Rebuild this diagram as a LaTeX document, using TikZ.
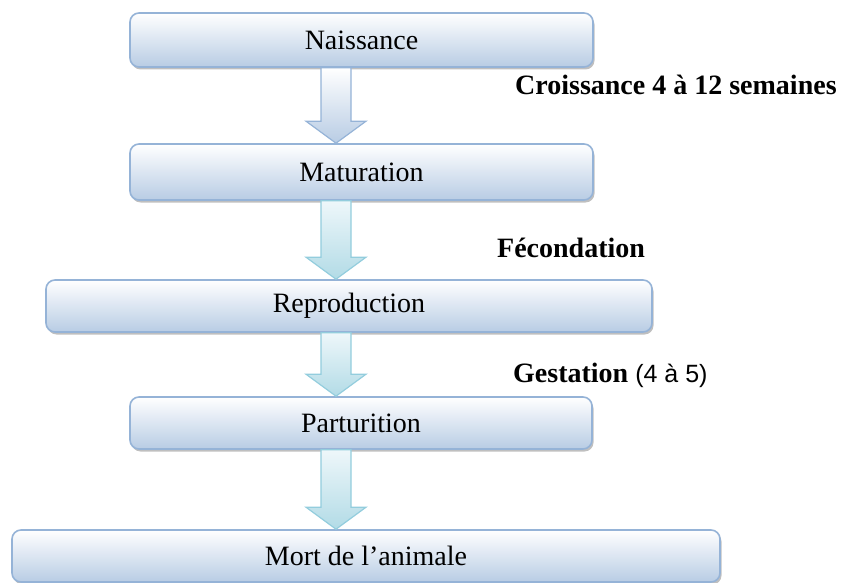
\documentclass[tikz,border=0pt]{standalone}
\usepackage{fontspec}
\setmainfont{Liberation Serif}
\setsansfont{Liberation Sans}
\usetikzlibrary{shadows,calc}
\definecolor{boxline}{HTML}{95B3D7}
\definecolor{boxbot}{HTML}{B8CCE4}
\definecolor{arrline}{HTML}{93CDDD}
\definecolor{arrtop}{HTML}{EEF7FA}
\definecolor{arrbot}{HTML}{B2DBE6}
\newcommand{\flowarrow}[3]{%
  \path[#1] let \p1=(#2.south), \p2=(#3.north) in
    (321pt,\y1) -- (351pt,\y1) -- (351pt,\y2+22pt) -- (366pt,\y2+22pt) --
    (336pt,\y2) -- (306pt,\y2+22pt) -- (321pt,\y2+22pt) -- cycle;}
\begin{document}
\begin{tikzpicture}[x=1pt,y=-1pt,
  stage/.style={draw=boxline, line width=1.6pt, rounded corners=9pt,
    top color=white, bottom color=boxbot, inner sep=0pt,
    font=\fontsize{28}{30}\selectfont,
    drop shadow={shadow xshift=1.5pt, shadow yshift=-2.5pt, fill=black!50, opacity=0.5}},
  lab/.style={anchor=west, inner sep=0pt, font=\fontsize{28}{30}\selectfont\bfseries},
  arrblue/.style={draw=boxline, line width=1.2pt, top color=white, bottom color=boxbot, line join=miter},
  arrteal/.style={draw=arrline, line width=1.2pt, top color=arrtop, bottom color=arrbot, line join=miter}]
\useasboundingbox (0,0) rectangle (841,583);
\node[stage, minimum width=463pt, minimum height=54pt] (nais) at (361.5,40) {Naissance};
\node[stage, minimum width=463pt, minimum height=56pt] (mat) at (361.5,172) {Maturation};
\node[stage, minimum width=606pt, minimum height=52pt] (repro) at (349,306) {Reproduction};
\node[stage, minimum width=462pt, minimum height=52pt] (part) at (361,423) {Parturition};
\node[stage, minimum width=708pt, minimum height=52pt] (mort) at (366,556) {Mort de l’animale};
\flowarrow{arrblue}{nais}{mat}
\flowarrow{arrteal}{mat}{repro}
\flowarrow{arrteal}{repro}{part}
\flowarrow{arrteal}{part}{mort}
\node[lab] (croi) at (515,85) {Croissance 4 à 12 semaines};
\node[lab] (fec) at (497,248) {Fécondation};
\node[lab] (gest) at (513,375) {Gestation {\normalfont\sffamily\fontsize{25}{28}\selectfont (4 à 5)}};
\end{tikzpicture}
\end{document}
